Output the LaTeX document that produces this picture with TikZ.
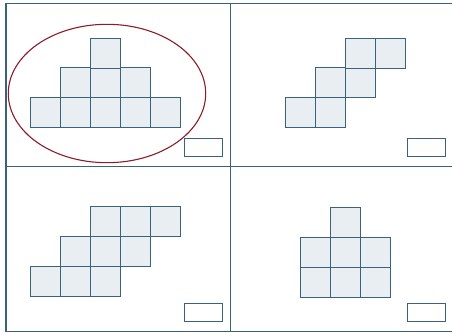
\documentclass[tikz,border=0pt]{standalone}
\definecolor{edge}{HTML}{3A6278}
\definecolor{cellfill}{HTML}{E8EEF1}
\definecolor{oval}{HTML}{8E1B2B}
\begin{document}
\begin{tikzpicture}[x=1pt,y=-1pt,
  cell/.style={draw=edge,fill=cellfill,line width=1.1pt,minimum size=30pt,inner sep=0pt,anchor=north west},
  tag/.style={draw=edge,line width=1.1pt,minimum width=38pt,minimum height=18pt,inner sep=0pt,anchor=north west},
  frame/.style={draw=edge,line width=1.1pt}]
\useasboundingbox (0,0) rectangle (452,332);
% frame
\draw[frame] (456,3.3) -- (6,3.3) -- (6,331.3) -- (456,331.3);
\draw[frame] (230.7,3.3) -- (230.7,331.3);
\draw[frame] (6,166.7) -- (456,166.7);
% top-left panel
\node[cell] (a1) at (30,97.3) {};
\node[cell] (a2) at (60,97.3) {};
\node[cell] (a3) at (90,97.3) {};
\node[cell] (a4) at (120,97.3) {};
\node[cell] (a5) at (150,97.3) {};
\node[cell] (a6) at (60,67.3) {};
\node[cell] (a7) at (90,67.3) {};
\node[cell] (a8) at (120,67.3) {};
\node[cell] (a9) at (90,37.5) {};
\node[tag] (ta) at (184.3,137.7) {};
\draw[oval,line width=1.1pt] (107,93.5) ellipse [x radius=98.7,y radius=69.2];
% top-right panel
\node[cell] (b1) at (285.3,97.3) {};
\node[cell] (b2) at (315.3,97.3) {};
\node[cell] (b3) at (315.3,67.3) {};
\node[cell] (b4) at (345.3,67.3) {};
\node[cell] (b5) at (345.3,37.5) {};
\node[cell] (b6) at (375.3,37.5) {};
\node[tag] (tb) at (407.3,137.7) {};
% bottom-left panel
\node[cell] (c1) at (30,266) {};
\node[cell] (c2) at (60,266) {};
\node[cell] (c3) at (90,266) {};
\node[cell] (c4) at (60,236) {};
\node[cell] (c5) at (90,236) {};
\node[cell] (c6) at (120,236) {};
\node[cell] (c7) at (90,206) {};
\node[cell] (c8) at (120,206) {};
\node[cell] (c9) at (150,206) {};
\node[tag] (tc) at (184.3,302.7) {};
% bottom-right panel
\node[cell] (d1) at (300,266.7) {};
\node[cell] (d2) at (330,266.7) {};
\node[cell] (d3) at (360,266.7) {};
\node[cell] (d4) at (300,236.7) {};
\node[cell] (d5) at (330,236.7) {};
\node[cell] (d6) at (360,236.7) {};
\node[cell] (d7) at (330,206.7) {};
\node[tag] (td) at (407.3,302.7) {};
\end{tikzpicture}
\end{document}
